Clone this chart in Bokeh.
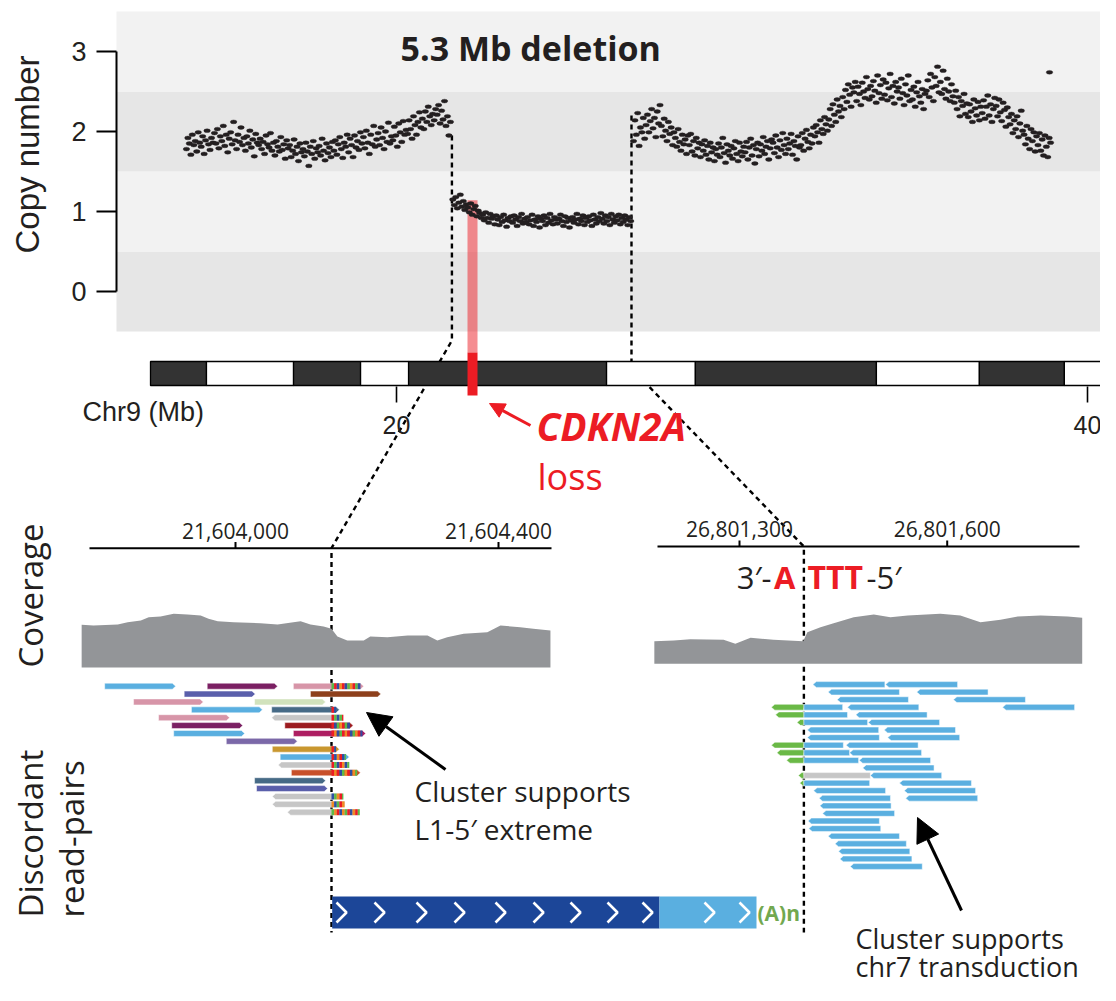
import numpy as np
from bokeh.plotting import figure
from bokeh.models import Range1d, Arrow, NormalHead
from bokeh.embed import file_html
from bokeh.resources import INLINE
from bokeh.core.properties import value

# ============================ DATA ============================
# Copy-number profile: bins evenly spaced inside each segment, values = CN x 100
SEG_LEFT_MB = (13.92, 21.56)
CN_LEFT = """
178 192 185 171 196 183 188 175 199 186 181 194 172 189 201 184 177 192 186 198
185 203 179 194 188 207 182 196 174 191 199 184 212 189 178 196 187 205 183 192
176 194 185 201 180 190 169 197 186 183 191 178 187 172 195 184 180 198 176 186
170 188 181 175 193 177 184 166 189 179 183 168 176 190 172 181 163 185 174 178
169 186 175 157 181 172 188 166 179 174 182 170 191 176 164 185 173 180 168 187
176 189 171 184 193 178 167 186 181 196 174 191 183 168 195 180 188 177 199 185
193 179 201 186 172 196 184 207 181 190 198 183 205 192 178 200 187 211 185 194
189 206 195 181 210 199 187 213 196 202 197 214 203 191 219 208 196 212 224 205
216 203 225 212 231 219 208 222 214 228 221 233 210 226 215 238 207 219 195 212
"""
SEG_DEL_MB = (21.63, 26.78)
CN_DEL = """
115 108 118 104 111 121 106 113 102 109 105 99 110 96 103 107 94 101 98 92
96 89 99 92 86 97 91 94 84 95 90 83 93 87 96 89 81 92 88 94
86 95 90 82 93 88 97 85 91 87 93 84 89 96 82 90 87 94 80 91
88 95 83 92 86 97 89 84 93 90 85 91 96 88 82 94 87 92 80 89
93 86 90 97 84 91 88 95 83 92 87 94 89 82 96 90 85 93 88 98
91 85 95 88 93 83 97 90 86 94 89 96 84 92 87 95 90 83 93 88
"""
SEG_RIGHT_MB = (26.86, 38.93)
CN_RIGHT = """
188 214 196 223 182 205 199 217 191 208 221 199 213 228 204 217 193 225 210 233
207 194 216 201 188 212 197 205 183 199 192 181 203 187 176 196 184 190 172 195
183 197 175 188 170 192 179 186 168 184 176 189 171 182 165 186 174 180 163 178
171 185 168 180 192 173 161 184 176 170 182 166 179 188 172 163 186 175 169 181
174 187 165 180 191 170 183 160 178 186 169 184 176 193 172 181 188 165 179 190
186 173 195 180 168 189 177 198 183 172 191 178 185 197 171 188 182 165 194 180
183 198 176 191 202 187 179 196 185 205 194 208 199 186 214 203 197 218 209 201
215 228 207 234 221 212 240 225 232 218 243 228 252 237 259 246 231 255 249 262
238 256 247 233 261 250 242 268 253 240 257 244 263 251 236 270 248 258 241 265
246 261 239 254 272 243 257 235 262 250 255 241 266 248 233 259 245 270 238 252
240 256 231 249 262 244 236 253 228 247 251 264 243 272 255 238 268 257 281 249
262 247 276 253 241 266 250 238 259 244 236 251 228 243 219 238 232 247 222 235
218 234 225 212 240 229 220 237 214 231 223 239 216 231 245 220 234 212 228 242
232 219 240 224 213 236 227 206 230 218 209 222 198 214 203 219 193 210 226 201
196 184 207 191 178 203 188 199 175 194 183 198 176 190 170 195 181 168 192 186
"""
OUTLIER_MB = [38.90]
OUTLIER_CN = [2.74]
CN_TICKS = [0, 1, 2, 3]
CN_BAND_LO = [-0.5, 0.5, 1.5, 2.5]
CN_BAND_HI = [0.5, 1.5, 2.5, 3.5]
CN_BAND_COLOR = ["#e6e6e6", "#f2f2f2", "#e6e6e6", "#f2f2f2"]

# Chr9 ideogram (Mb)
IDEO_START = [12.88, 14.50, 17.02, 18.96, 20.35, 26.08, 28.65, 33.89, 36.87, 39.33]
IDEO_END = [14.50, 17.02, 18.96, 20.35, 26.08, 28.65, 33.89, 36.87, 39.33, 40.75]
IDEO_STAIN = ["dark", "light", "dark", "light", "dark", "light", "dark", "light", "dark", "light"]
IDEO_TICKS = [20, 40]
IDEO_TICK_LABELS = ["20", "40"]
CDKN2A_MB = 22.20

# Breakpoints (bp)
BP_LEFT = 21604146
BP_RIGHT = 26801393

# Left junction locus
LOCL_ORIGIN = 21604000
LOCL_TICKS = [21604000, 21604400]
LOCL_LABELS = ["21,604,000", "21,604,400"]
COVL_POS = [-234, -216, -179, -164, -144, -132, -114, -94, -73, -53, -41, -27, -3, 38, 64, 88, 99,
            114, 134, 146, 155, 170, 195, 205, 231, 262, 292, 307, 322, 347, 383, 403, 433, 453, 479]
COVL_DEPTH = [42.7, 42, 43, 45.3, 47, 50.3, 51, 53.7, 53, 52, 48.7, 46.3, 45.3, 44.3, 43, 45.3, 46.3,
              43, 41, 38.7, 31, 27, 27, 31, 30.3, 32, 32, 27, 30.3, 33.7, 35.3, 42, 40.3, 38.7, 37]

# Right junction locus
LOCR_ORIGIN = 26801300
LOCR_TICKS = [26801300, 26801600]
LOCR_LABELS = ["26,801,300", "26,801,600"]
COVR_POS = [-123, -95, -71, -23, -6, 16, 49, 92, 98, 117, 136, 165, 194, 218, 243, 290, 319,
            348, 377, 402, 435, 474, 495]
COVR_DEPTH = [22.6, 23.3, 24.6, 24, 20, 26, 24, 22.6, 31.6, 36.6, 40.6, 46.6, 49.3, 46.6, 48.3, 50,
              48.3, 41.6, 44, 47.3, 48.3, 47.3, 46]

# Discordant reads, left cluster (offsets from LOCL_ORIGIN; clip = end of soft-clip, 0 = none)
L_ROW = [0, 0, 0, 1, 1, 2, 2, 3, 3, 4, 4, 5, 5, 6, 6, 7, 8, 9, 10, 11, 12, 13, 14, 15, 16]
L_START = [-199, -43, 88, -78, 114, -155, 29, -67, 55, -117, 55, -97, 75, -94, 88, -14, 56, 68, 65,
           85, 29, 32, 56, 56, 79]
L_END = [-91, 64, 146, 30, 221, -49, 137, 41, 146, -9, 146, 11, 146, 14, 146, 94, 146, 146, 146,
         146, 137, 140, 146, 146, 146]
L_STRAND = ["+", "+", "+", "+", "+", "+", "+", "+", "+", "+", "-", "+", "+", "+", "+", "+", "+", "+",
            "-", "+", "+", "+", "-", "-", "-"]
L_CLIP = [0, 0, 195, 0, 0, 0, 0, 0, 158, 0, 164, 0, 179, 0, 198, 0, 158, 173, 173, 190, 0, 0, 164,
          166, 189]
L_COLOR = ["#5aafe0", "#7b2063", "#d795a8", "#5a5fab", "#8e401c", "#d795a8", "#d1e2bc", "#5aafe0",
           "#466a86", "#d795a8", "#c6c6c6", "#7b2063", "#9c1b20", "#5aafe0", "#ae1e62", "#7b68a8",
           "#c9972f", "#5aafe0", "#c6c6c6", "#c8502a", "#466a86", "#5a5fab", "#c6c6c6", "#c6c6c6",
           "#c6c6c6"]
CLIP_SEQ = "ATCGTCAGTACTGCATGTCAGTCGATCGTAC"
BASE_COLOR = {"A": "#5db947", "C": "#2e4fa2", "G": "#f08a24", "T": "#ec1c24"}

# Discordant reads, right cluster (offsets from LOCR_ORIGIN; clip = start of soft-clip, 0 = none)
R_ROW = [0, 0, 1, 1, 2, 2, 3, 3, 3, 4, 4, 5, 5, 6, 6, 7, 7, 8, 8, 9, 9, 10, 10, 11, 12, 12, 13, 13,
         14, 14, 15, 15, 16, 17, 18, 19, 20, 21, 22, 23, 24]
R_START = [106, 211, 128, 256, 141, 309, 93, 156, 380, 93, 168, 93, 186, 98, 209, 98, 214, 93, 154,
           93, 159, 93, 173, 178, 93, 189, 93, 231, 107, 238, 115, 240, 116, 120, 99, 100, 128, 138,
           143, 145, 160]
R_END = [210, 315, 231, 359, 244, 413, 149, 259, 484, 156, 271, 185, 289, 201, 312, 202, 318, 150,
         258, 159, 263, 172, 276, 281, 189, 292, 188, 335, 211, 341, 218, 344, 219, 224, 202, 204,
         231, 241, 246, 249, 264]
R_CLIP = [0, 0, 0, 0, 0, 0, 46, 0, 0, 52, 0, 83, 0, 0, 0, 0, 0, 46, 0, 54, 0, 68, 0, 0, 85, 0, 87,
          0, 0, 0, 0, 0, 0, 0, 0, 0, 0, 0, 0, 0, 0]
R_COLOR = ["#5aafe0"] * 24 + ["#c6c6c6"] + ["#5aafe0"] * 16
R_CLIP_COLOR = "#6ab946"

# ============================ LAYOUT ============================
W, H = 1100, 985
PX0, PX1, PY0, PY1 = 0, W, 0, H
MB_A = (20, 396, 40, 1087)
CN_A = (0, 291, 3, 51)
LOCL_A = (0, 235, 400, 498)
LOCR_A = (0, 739, 300, 946.7)
COVL_A = (0, 667, 50, 617)
COVR_A = (0, 663.3, 50, 613.3)
ROWL_A = (0, 685.7, 16, 811.7)
ROWR_A = (0, 684, 24, 866)

INK = "#231f20"
RED = "#ec1c24"
HELV = value("Liberation Sans")
MYR = value("Open Sans")


def span(a, lo, hi):
    d1, p1, d2, p2 = a
    k = (d2 - d1) / (p2 - p1)
    return d1 + (lo - p1) * k, d1 + (hi - p1) * k


def xr(a):
    s, e = span(a, PX0, PX1)
    return Range1d(start=s, end=e)


def yr(a):
    s, e = span(a, PY1, PY0)
    return Range1d(start=s, end=e)


def to_px(a, d):
    d1, p1, d2, p2 = a
    return p1 + (d - d1) * (p2 - p1) / (d2 - d1)


p = figure(width=W, height=H, x_range=Range1d(PX0, PX1), y_range=Range1d(PY1, PY0),
           output_backend="svg", toolbar_location=None, x_axis_type=None, y_axis_type=None,
           min_border=0, min_border_left=0, min_border_right=0, min_border_top=0,
           min_border_bottom=0)
p.grid.visible = False
p.outline_line_color = None
p.background_fill_color = "white"
p.extra_x_ranges = {"mb": xr(MB_A), "locL": xr(LOCL_A), "locR": xr(LOCR_A)}
p.extra_y_ranges = {"cn": yr(CN_A), "covL": yr(COVL_A), "covR": yr(COVR_A),
                    "rowL": yr(ROWL_A), "rowR": yr(ROWR_A)}


def label(x, y, txt, size, font=MYR, color=INK, style="normal", align="left", angle=0.0, **kw):
    p.text(x=x, y=y, text=txt, text_font=font, text_font_size=f"{size}px",
           text_font_style=style, text_color=color, text_align=align, text_baseline="middle",
           angle=angle, **kw)


# ---------------- copy number panel ----------------
p.quad(left=116, right=1116, bottom=CN_BAND_LO, top=CN_BAND_HI, fill_color=CN_BAND_COLOR,
       line_color=None, y_range_name="cn")

# dashed connectors
bxl = to_px(MB_A, BP_LEFT / 1e6)
bxr = to_px(MB_A, BP_RIGHT / 1e6)
lxl = to_px(LOCL_A, BP_LEFT - LOCL_ORIGIN)
lxr = to_px(LOCR_A, BP_RIGHT - LOCR_ORIGIN)
p.multi_line(xs=[[bxl, bxl, lxl, lxl], [bxr, bxr, lxr, lxr]],
             ys=[[to_px(CN_A, 1.95), 340, 547.7, 932], [to_px(CN_A, 2.2), 368, 546, 932]],
             line_color="black", line_width=2.4, line_dash="5 4")

# pink CDKN2A stripe through the CN panel
cdx = to_px(MB_A, CDKN2A_MB)
p.quad(left=cdx - 5, right=cdx + 5, top=to_px(CN_A, 1.14), bottom=352, fill_color=RED,
       fill_alpha=0.5, line_color=None)


def cn_bins(seg, txt):
    v = np.array(txt.split(), dtype=float) / 100.0
    return np.linspace(seg[0], seg[1], len(v)), v


xs_all, ys_all = [], []
for seg, txt in [(SEG_LEFT_MB, CN_LEFT), (SEG_DEL_MB, CN_DEL), (SEG_RIGHT_MB, CN_RIGHT)]:
    xx, yy = cn_bins(seg, txt)
    xs_all.append(xx)
    ys_all.append(yy)
xs_all.append(np.array(OUTLIER_MB))
ys_all.append(np.array(OUTLIER_CN))
p.ellipse(x=np.concatenate(xs_all), y=np.concatenate(ys_all), width=6.5, height=3.8,
          width_units="screen", height_units="screen", fill_color=INK, line_color=INK,
          line_width=0.4, x_range_name="mb", y_range_name="cn")

# y axis
p.segment(x0=116, x1=116, y0=CN_TICKS[0], y1=CN_TICKS[-1], line_color="black", line_width=2,
          y_range_name="cn")
p.segment(x0=96, x1=116, y0=CN_TICKS, y1=CN_TICKS, line_color="black", line_width=2,
          y_range_name="cn")
label(86, CN_TICKS, [str(t) for t in CN_TICKS], 27, font=HELV, align="right", y_range_name="cn")
label([27], [154], ["Copy number"], 33, font=HELV, align="center", angle=np.pi / 2)
label([400], [47.5], ["5.3 Mb deletion"], 34, style="bold")

# ---------------- ideogram ----------------
p.quad(left=IDEO_START, right=IDEO_END, bottom=385, top=361,
       fill_color=["#333333" if s == "dark" else "white" for s in IDEO_STAIN],
       line_color="black", line_width=1.3, x_range_name="mb")
p.segment(x0=IDEO_TICKS, x1=IDEO_TICKS, y0=386, y1=402, line_color="black", line_width=1.6,
          x_range_name="mb")
label(IDEO_TICKS, [424, 424], IDEO_TICK_LABELS, 25, font=HELV, align="center", x_range_name="mb")
label([82], [411], ["Chr9 (Mb)"], 27, font=HELV)
p.quad(left=cdx - 5, right=cdx + 5, top=352, bottom=395, fill_color=RED, line_color=None)
p.add_layout(Arrow(x_start=530, y_start=425, x_end=489, y_end=403, line_color=RED, line_width=3,
                   end=NormalHead(size=15, fill_color=RED, line_color=RED)))
label([536], [425], ["CDKN2A"], 39, color=RED, style="bold italic")
label([537], [476], ["loss"], 36, color=RED)

# ---------------- locus axes ----------------
p.segment(x0=89, x1=551, y0=547.7, y1=547.7, line_color="black", line_width=2)
tl = [t - LOCL_ORIGIN for t in LOCL_TICKS]
p.segment(x0=tl, x1=tl, y0=541.5, y1=547.7, line_color="black", line_width=2, x_range_name="locL")
label(tl, [530, 530], LOCL_LABELS, 21, align="center", x_range_name="locL")
p.segment(x0=657, x1=1079, y0=546, y1=546, line_color="black", line_width=2)
tr = [t - LOCR_ORIGIN for t in LOCR_TICKS]
p.segment(x0=tr, x1=tr, y0=540, y1=546, line_color="black", line_width=2, x_range_name="locR")
label(tr, [528.5, 528.5], LOCR_LABELS, 21, align="center", x_range_name="locR")

# junction sequence
label([771], [576], ["3\u2032-"], 31, align="right")
label([795], [576], ["A"], 31, color=RED, style="bold", align="right")
label([807], [576], ["TTT"], 32, color=RED, style="bold")
label([866], [576], ["-5\u2032"], 31)

# ---------------- coverage ----------------
p.varea(x=COVL_POS, y1=0, y2=COVL_DEPTH, fill_color="#939598", x_range_name="locL",
        y_range_name="covL")
p.varea(x=COVR_POS, y1=0, y2=COVR_DEPTH, fill_color="#939598", x_range_name="locR",
        y_range_name="covR")

# ---------------- reads ----------------
HH = 0.38
TIP = 5


def arrow_poly(s, e, r, strand, tip):
    if strand == "+":
        return [s, e - tip, e, e - tip, s], [r - HH, r - HH, r, r + HH, r + HH]
    return [s, s + tip, e, e, s + tip], [r, r - HH, r - HH, r + HH, r + HH]


lx, ly, lc = [], [], []
sl, sr, sb, st, sc = [], [], [], [], []
for r, s, e, strand, clip, col in zip(L_ROW, L_START, L_END, L_STRAND, L_CLIP, L_COLOR):
    end = clip if clip else e
    xx, yy = arrow_poly(s, end, r, strand, TIP)
    lx.append(xx)
    ly.append(yy)
    lc.append(col)
    if clip:
        stop = clip - TIP if strand == "+" else clip
        k = (r * 7) % len(CLIP_SEQ)
        pos = e
        while pos < stop:
            sl.append(pos)
            sr.append(min(pos + 4, stop))
            sb.append(r - HH)
            st.append(r + HH)
            sc.append(BASE_COLOR[CLIP_SEQ[k % len(CLIP_SEQ)]])
            pos += 4
            k += 1
p.patches(xs=lx, ys=ly, fill_color=lc, line_color="white", line_alpha=0.6, line_width=0.8,
          x_range_name="locL", y_range_name="rowL")
p.quad(left=sl, right=sr, bottom=sb, top=st, fill_color=sc, line_color=None,
       x_range_name="locL", y_range_name="rowL")

rx, ry, rc = [], [], []
for r, s, e, clip, col in zip(R_ROW, R_START, R_END, R_CLIP, R_COLOR):
    if clip:
        xx, yy = arrow_poly(clip, s, r, "-", TIP)
        rx.append(xx)
        ry.append(yy)
        rc.append(R_CLIP_COLOR)
        rx.append([s, e, e, s])
        ry.append([r - HH, r - HH, r + HH, r + HH])
        rc.append(col)
    else:
        xx, yy = arrow_poly(s, e, r, "-", TIP)
        rx.append(xx)
        ry.append(yy)
        rc.append(col)
p.patches(xs=rx, ys=ry, fill_color=rc, line_color="white", line_alpha=0.6, line_width=0.8,
          x_range_name="locR", y_range_name="rowR")

# ---------------- L1 insertion schematic ----------------
p.quad(left=[331.7, 659], right=[659, 756], top=896, bottom=928,
       fill_color=["#1c4698", "#5aafe0"], line_color=None)
CHEVRON_X = [341, 379, 421, 459, 500, 538, 575, 612, 647, 709, 744]
p.multi_line(xs=[[c - 5, c + 5, c - 5] for c in CHEVRON_X],
             ys=[[902, 912, 922] for _ in CHEVRON_X], line_color="white", line_width=2.6)
label([757], [912], ["(A)n"], 21, color="#72a84f", style="bold")

# ---------------- side labels & annotations ----------------
label([30], [667], ["Coverage"], 33, angle=np.pi / 2)
label([30, 71], [917, 917], ["Discordant", "read-pairs"], 33, angle=np.pi / 2)
label([414, 414], [790.5, 828], ["Cluster supports", "L1-5\u2032 extreme"], 28)
label([855, 855], [938, 966], ["Cluster supports", "chr7 transduction"], 27)
p.add_layout(Arrow(x_start=445, y_start=769, x_end=366, y_end=712, line_color="black",
                   line_width=3, end=NormalHead(size=24, fill_color="black", line_color="black")))
p.add_layout(Arrow(x_start=961, y_start=910, x_end=917, y_end=817, line_color="black",
                   line_width=3, end=NormalHead(size=24, fill_color="black", line_color="black")))

open("out.html", "w").write(file_html(p, INLINE))
